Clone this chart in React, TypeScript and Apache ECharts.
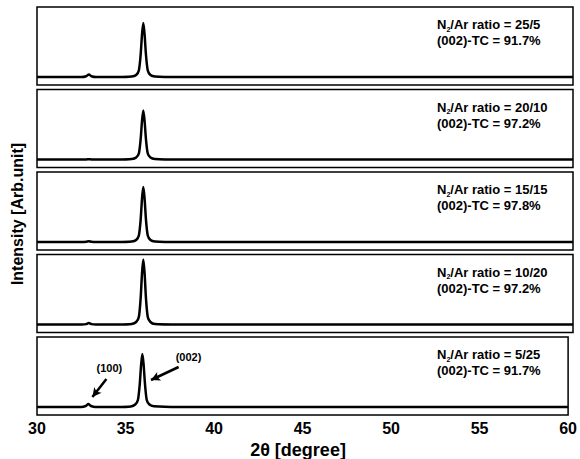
import React, { useEffect, useRef } from "react";
import * as echarts from "echarts";

const twoTheta = [30, 31.5, 32.5, 32.75, 32.9, 33.05, 33.3, 34.5, 35.3, 35.55, 35.7, 35.8, 35.88, 35.95, 36.02, 36.1, 36.2, 36.35, 36.6, 38, 45, 52, 60];
const p1 = [0, 0, 0, 0.8, 2.5, 0.8, 0, 0, 0.5, 2, 6.5, 22, 43, 54, 43, 22, 6.5, 2, 0.5, 0, 0, 0, 0];
const p2 = [0, 0, 0, 0, 0.3, 0, 0, 0, 0.5, 2, 6, 20, 39, 49, 39, 20, 6, 2, 0.5, 0, 0, 0, 0];
const p3 = [0, 0, 0, 0.2, 0.8, 0.2, 0, 0, 0.5, 2, 6.5, 22, 44, 55, 44, 22, 6.5, 2, 0.5, 0, 0, 0, 0];
const p4 = [0, 0, 0, 0.4, 1.5, 0.4, 0, 0, 0.5, 2.5, 7.5, 26, 52, 65, 52, 26, 7.5, 2.5, 0.5, 0, 0, 0, 0];
const p5 = [0, 0, 0, 1, 3, 1, 0, 0, 0.5, 2.5, 7, 22, 42, 53, 43, 23, 7, 2.5, 0.8, 0, 0, 0, 0];
const panels = [p1, p2, p3, p4, p5];
const ratios = ["25/5", "20/10", "15/15", "10/20", "5/25"];
const tcValues = ["91.7%", "97.2%", "97.8%", "97.2%", "91.7%"];
const xTicks = [30, 35, 40, 45, 50, 55, 60];

const FONT = "'Liberation Sans', Arial, sans-serif";

export default function App() {
  const ref = useRef<HTMLDivElement>(null);
  useEffect(() => {
    if (!ref.current) return;
    const chart = echarts.init(ref.current, undefined, { renderer: "svg" });
    const tops = panels.map((_, i) => 7 + i * 82.5);
    const grids = tops.map((t) => ({
      left: 37,
      right: 7,
      top: t,
      height: 78,
      show: true,
      borderColor: "#000",
      borderWidth: 1.5,
      backgroundColor: "#fff",
    }));
    const xAxes = panels.map((_, i) => ({
      type: "value",
      gridIndex: i,
      min: xTicks[0],
      max: xTicks[xTicks.length - 1],
      interval: 5,
      axisLine: { show: false },
      axisTick: { show: false },
      splitLine: { show: false },
      axisLabel: {
        show: i === panels.length - 1,
        color: "#000",
        fontFamily: FONT,
        fontWeight: "bold",
        fontSize: 16,
        margin: 5,
      },
    }));
    const yAxes = panels.map((_, i) => ({
      type: "value",
      gridIndex: i,
      min: -8,
      max: 70,
      show: false,
    }));
    const series: any[] = panels.map((p, i) => ({
      type: "line",
      xAxisIndex: i,
      yAxisIndex: i,
      data: twoTheta.map((x, k) => [x, p[k]]),
      showSymbol: false,
      smooth: 0.25,
      lineStyle: { color: "#000", width: 2.5 },
      silent: true,
    }));
    const annoStyle = { color: "#000", fontFamily: FONT, fontWeight: "bold", fontSize: 11 };
    series[4].markLine = {
      silent: true,
      symbol: ["none", "arrow"],
      symbolSize: [7, 9],
      lineStyle: { color: "#000", width: 2.5, type: "solid" },
      label: { show: false },
      data: [
        [{ coord: [33.92, 28] }, { coord: [33.13, 10] }],
        [{ coord: [38.0, 40] }, { coord: [36.44, 27] }],
      ],
    };
    series[4].markPoint = {
      silent: true,
      symbol: "circle",
      symbolSize: 0,
      label: { show: true, position: "inside", ...annoStyle },
      data: [
        { coord: [34.09, 39], value: "(100)", label: { formatter: "(100)" } },
        { coord: [38.56, 50], value: "(002)", label: { formatter: "(002)" } },
      ],
    };
    const graphics: any[] = tops.map((t, i) => ({
      type: "text",
      left: 437,
      top: t + 11,
      style: {
        text: `{b|N}{s|2}{b|/Ar ratio = ${ratios[i]}}\n{b|(002)-TC = ${tcValues[i]}}`,
        rich: {
          b: { fontFamily: FONT, fontWeight: "bold", fontSize: 13, lineHeight: 16, fill: "#000" },
          s: { fontFamily: FONT, fontWeight: "bold", fontSize: 7, lineHeight: 16, verticalAlign: "bottom", fill: "#000" },
        },
      },
    }));
    graphics.push({
      type: "text",
      x: 17,
      y: 214,
      rotation: Math.PI / 2,
      style: {
        text: "Intensity [Arb.unit]",
        fontFamily: FONT,
        fontWeight: "bold",
        fontSize: 16,
        fill: "#000",
        align: "center",
        verticalAlign: "middle",
      },
    });
    graphics.push({
      type: "text",
      x: 298,
      y: 450,
      style: {
        text: "2θ [degree]",
        fontFamily: FONT,
        fontWeight: "bold",
        fontSize: 18,
        fill: "#000",
        align: "center",
        verticalAlign: "middle",
      },
    });
    chart.setOption({
      animation: false,
      backgroundColor: "#fff",
      grid: grids,
      xAxis: xAxes,
      yAxis: yAxes,
      series,
      graphic: graphics,
    });
    return () => chart.dispose();
  }, []);
  return <div ref={ref} style={{ width: 580, height: 459, position: "absolute", left: 0, top: 0 }} />;
}
